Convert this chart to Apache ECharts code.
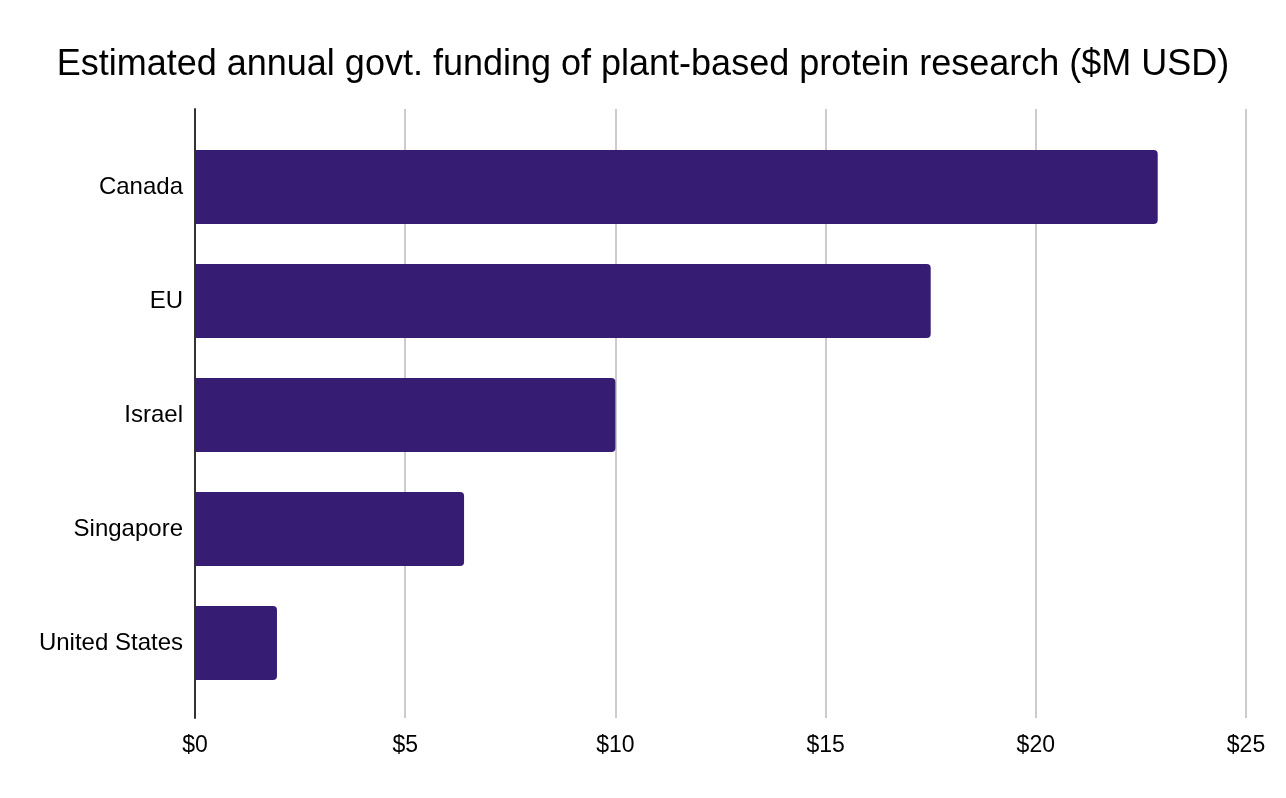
<!DOCTYPE html>
<html>
<head>
<meta charset="utf-8">
<script src="https://cdn.jsdelivr.net/npm/echarts@6/dist/echarts.min.js"></script>
<style>
html,body{margin:0;padding:0;background:#fff;}
#chart{width:1286px;height:798px;}
</style>
</head>
<body>
<div id="chart"></div>
<script>
var categories = ['Canada', 'EU', 'Israel', 'Singapore', 'United States'];
var funding = [22.9, 17.5, 10.0, 6.4, 1.95];
var titleText = 'Estimated annual govt. funding of plant-based protein research ($M USD)';

var chart = echarts.init(document.getElementById('chart'));
var font = 'Liberation Sans, Arial, sans-serif';
chart.setOption({
  animation: false,
  backgroundColor: '#ffffff',
  title: {
    text: titleText,
    left: 'center',
    top: 42,
    textStyle: {fontFamily: font, fontSize: 36, fontWeight: 'normal', color: '#000'}
  },
  grid: [
    {left: 195, right: 40, top: 130, bottom: 98},
    {left: 195, right: 40, top: 109, bottom: 80}
  ],
  xAxis: [
    {gridIndex: 0, type: 'value', min: 0, max: 25, interval: 5, show: false},
    {gridIndex: 1, type: 'value', min: 0, max: 25, interval: 5,
     axisLine: {show: false}, axisTick: {show: false},
     splitLine: {show: true, lineStyle: {color: '#cccccc', width: 2}},
     axisLabel: {margin: 16, fontFamily: font, fontSize: 23, color: '#000',
       formatter: function (v) { return '$' + v; }}}
  ],
  yAxis: [
    {gridIndex: 0, type: 'category', inverse: true, data: categories,
     axisLine: {show: false}, axisTick: {show: false},
     axisLabel: {margin: 12, fontFamily: font, fontSize: 24, color: '#000'}},
    {gridIndex: 1, type: 'value', min: 0, max: 1,
     axisLine: {show: true, lineStyle: {color: '#333333', width: 2}},
     axisTick: {show: false}, axisLabel: {show: false}, splitLine: {show: false}}
  ],
  series: [{
    type: 'bar',
    xAxisIndex: 0,
    yAxisIndex: 0,
    data: funding,
    barWidth: 74,
    itemStyle: {color: '#361c73', borderRadius: [0, 4, 4, 0]}
  }]
});
</script>
</body>
</html>
